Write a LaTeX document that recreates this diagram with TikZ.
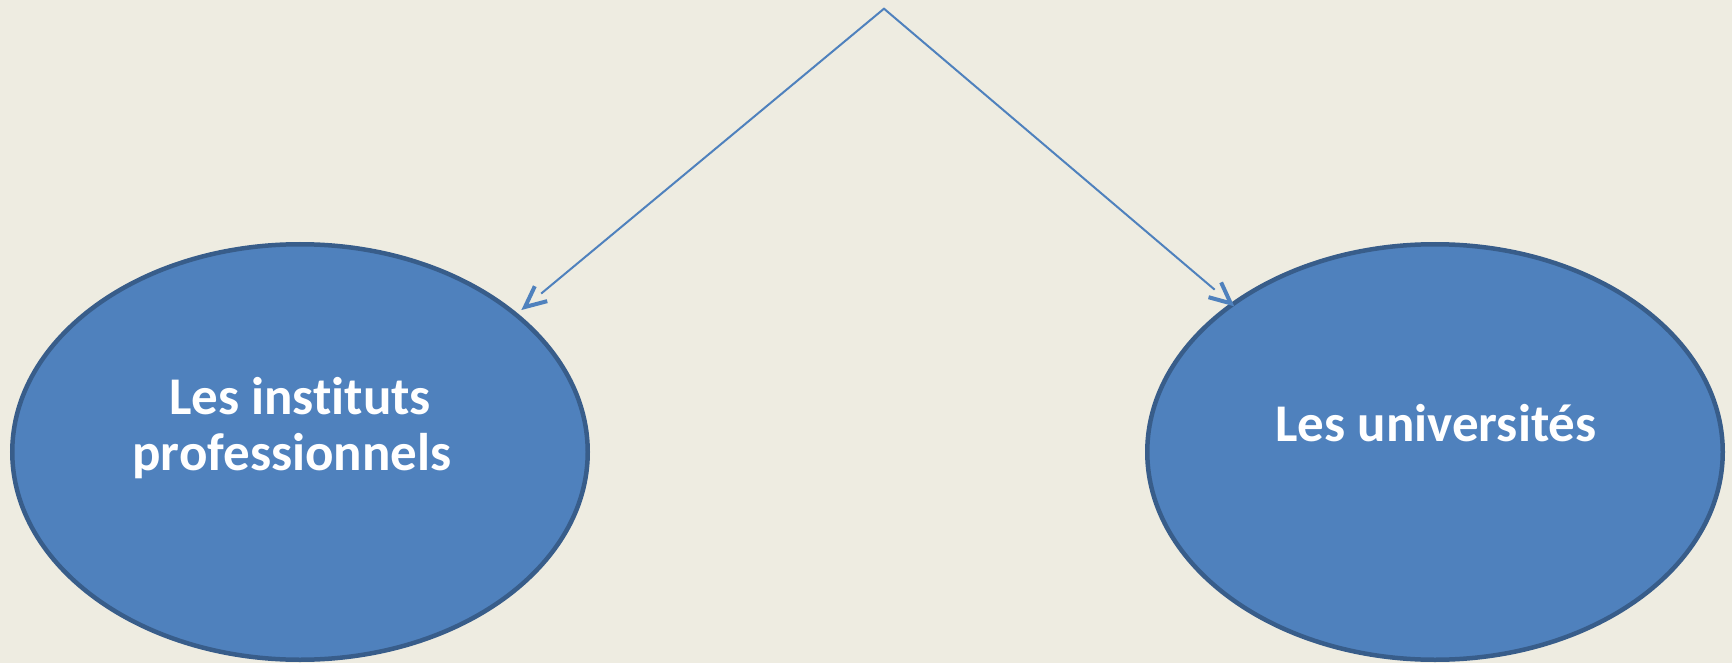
\documentclass[tikz,border=0pt]{standalone}
\usepackage{fontspec}
\setmainfont{Carlito}[Ligatures=NoCommon]
\usetikzlibrary{shapes.geometric,calc}
\definecolor{bg}{HTML}{EEECE1}
\definecolor{fillblue}{HTML}{4F81BD}
\definecolor{edgeblue}{HTML}{385D8A}
\tikzset{
  oval/.style={ellipse, draw=edgeblue, fill=fillblue, line width=4.5pt,
    minimum width=575.5pt, minimum height=415.5pt, inner sep=0pt},
  lbl/.style={text=white, font=\fontsize{53}{58}\selectfont\bfseries, anchor=base, inner sep=0pt},
  shaft/.style={draw=fillblue, line width=2pt},
  vhead/.style={draw=fillblue, line width=4pt, line join=miter}
}
\begin{document}
\begin{tikzpicture}[x=1pt,y=-1pt]
\fill[bg] (0,0) rectangle (1732,663);
\useasboundingbox (0,0) rectangle (1732,663);
\node[oval] (inst) at (300,452) {};
\node[oval] (univ) at (1435,452) {};
\node[lbl] (t1) at (300,414) {Les instituts};
\node[lbl] (t2) at (292,470) {professionnels};
\node[lbl] (t3) at (1436,441) {Les universités};
\coordinate (apex) at (884,8.7);
\coordinate (tipL) at (525,307);
\coordinate (tipR) at (1230.7,303.3);
\coordinate (endL) at ($(tipL)!21pt!(apex)$);
\coordinate (endR) at ($(tipR)!21pt!(apex)$);
\draw[shaft] (endL) -- (apex) -- (endR);
\draw[vhead] ($(tipL)!23pt!25:(apex)$) -- (tipL) -- ($(tipL)!23pt!-25:(apex)$);
\draw[vhead] ($(tipR)!23pt!25:(apex)$) -- (tipR) -- ($(tipR)!23pt!-25:(apex)$);
\end{tikzpicture}
\end{document}
